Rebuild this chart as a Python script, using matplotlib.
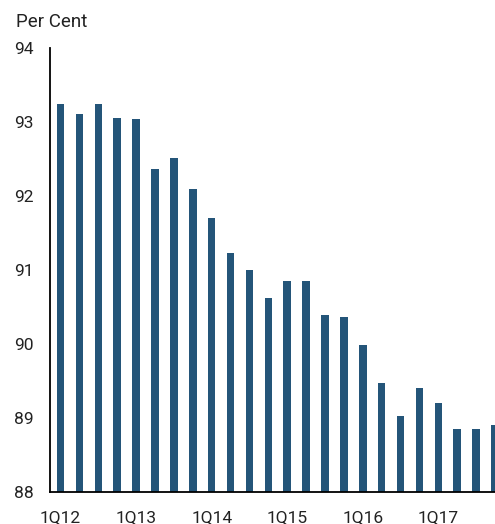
import numpy as np
import matplotlib.pyplot as plt

plt.rcParams['font.family'] = ['Roboto', 'DejaVu Sans']

quarters = [f'{q}Q{y}' for y in range(12, 18) for q in range(1, 5)]
values = [93.25, 93.11, 93.25, 93.05, 93.04, 92.37, 92.52, 92.09,
          91.71, 91.23, 91.00, 90.62, 90.85, 90.85, 90.39, 90.37,
          89.99, 89.48, 89.03, 89.40, 89.20, 88.85, 88.85, 88.90]
tick_labels = ['1Q12', '1Q13', '1Q14', '1Q15', '1Q16', '1Q17']
yticks = [88, 89, 90, 91, 92, 93, 94]

fig = plt.figure(figsize=(4.95, 5.24), dpi=100)
ax = fig.add_axes([0.101, 0.061, 0.899, 0.847])

x = np.arange(len(values))
ax.bar(x, np.array(values) - 88, bottom=88, width=0.4, color='#245579')

ax.set_ylim(88, 94)
ax.set_xlim(-0.56, 23.0)
ax.set_yticks(yticks)
ax.set_yticklabels([str(v) for v in yticks])
ax.set_xticks([quarters.index(t) for t in tick_labels])
ax.set_xticklabels(tick_labels)
ax.tick_params(axis='y', length=0, pad=12, labelsize=12.5, colors='#222222')
ax.tick_params(axis='x', length=0, pad=13, labelsize=12.5, colors='#222222')

for s in ['top', 'right']:
    ax.spines[s].set_visible(False)
ax.spines['left'].set_linewidth(1.3)
ax.spines['bottom'].set_linewidth(1.3)

fig.text(16 / 495, 1 - 22 / 524, 'Per Cent', fontsize=13.5, color='#222222',
         va='center', ha='left')

fig.savefig('out.png', dpi=100)
